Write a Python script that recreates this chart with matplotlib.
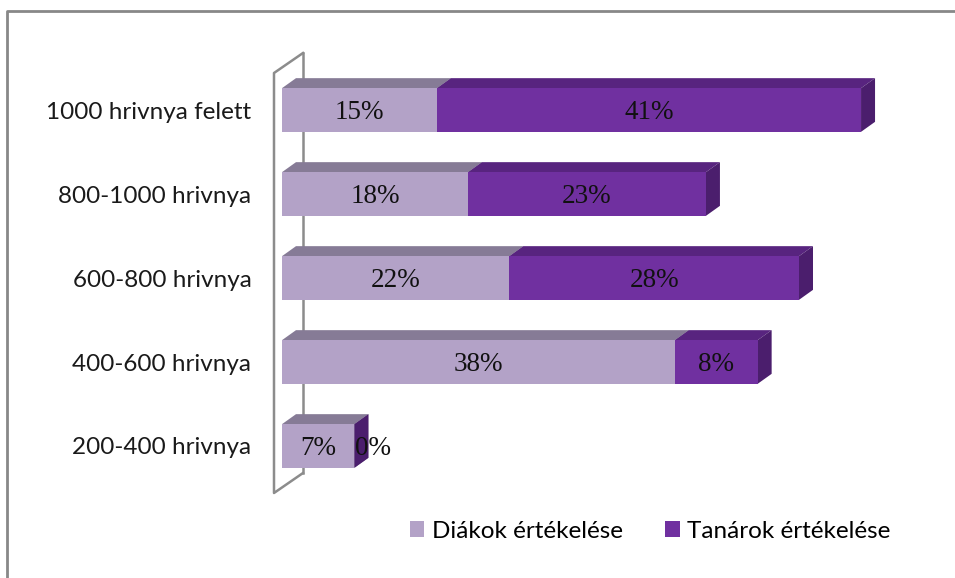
import matplotlib.pyplot as plt
from matplotlib.patches import Polygon, Patch
from matplotlib.lines import Line2D

# --------- data --------- #
categories = ['200-400 hrivnya', '400-600 hrivnya', '600-800 hrivnya',
              '800-1000 hrivnya', '1000 hrivnya felett']
diakok = [7, 38, 22, 18, 15]
tanarok = [0, 8, 28, 23, 41]
series_names = ['Diákok értékelése', 'Tanárok értékelése']

# colours: front, top, side
light = ('#B3A2C7', '#867B96', '#7E6F92')
dark = ('#7030A0', '#58247F', '#4B1E6D')

W, H = 955, 578
fig = plt.figure(figsize=(W / 100, H / 100), dpi=100)

# axes mapped so 1% = 10.34 px, x=0 at px 282, category i at px 446-84*i
x0_px, ppx = 282, 10.34
xmax = 60
ylo, yhi = -0.7, 4.7
ax = fig.add_axes([x0_px / W, (H - (446 + 84 * -ylo)) / H,
                   ppx * xmax / W, 84 * (yhi - ylo) / H])
ax.set_xlim(0, xmax)
ax.set_ylim(ylo, yhi)
for s in ax.spines.values():
    s.set_visible(False)
ax.set_xticks([])
ax.set_yticks(range(len(categories)))
ax.set_yticklabels(categories, fontsize=17.5, family='Lato', color='#1a1a1a')
ax.tick_params(axis='y', length=0, pad=22)

dx, dy = 14 / ppx, 10 / 84
bh = 0.52

# back wall outline
wall = '#8c8c8c'
xl, xb = -8 / ppx, 21 / ppx
yt, yb = (446 - 73) / 84, (446 - 493) / 84
ax.add_line(Line2D([xb, xb], [yb + 20 / 84, yt + 20 / 84], color=wall, lw=1.8,
                   clip_on=False, zorder=1))
ax.add_line(Line2D([xb, xl, xl, xb], [yt + 20 / 84, yt, yb, yb + 20 / 84],
                   color=wall, lw=1.8, clip_on=False, zorder=1))


def box(x, y, w, cols, z):
    f, t, sd = cols
    lo, hi = y - bh / 2, y + bh / 2
    ax.add_patch(Polygon([(x, hi), (x + w, hi), (x + w + dx, hi + dy), (x + dx, hi + dy)],
                         closed=True, fc=t, ec='none', zorder=z, clip_on=False))
    ax.add_patch(Polygon([(x + w, lo), (x + w + dx, lo + dy), (x + w + dx, hi + dy), (x + w, hi)],
                         closed=True, fc=sd, ec='none', zorder=z, clip_on=False))
    ax.add_patch(Polygon([(x, lo), (x + w, lo), (x + w, hi), (x, hi)],
                         closed=True, fc=f, ec='none', zorder=z + 0.5, clip_on=False))


for i in range(len(categories)):
    box(0, i, diakok[i], light, 2)
    box(diakok[i], i, tanarok[i], dark, 3)
    ax.text(diakok[i] / 2, i - 0.03, f'{diakok[i]}%', ha='center', va='center',
            family='Liberation Serif', fontsize=19.5, color='#111111', zorder=5)
    if tanarok[i] == 0:
        ax.text(diakok[i] + 0.05, i - 0.03, f'{tanarok[i]}%', ha='left', va='center',
                family='Liberation Serif', fontsize=19.5, color='#111111', zorder=5)
    else:
        ax.text(diakok[i] + tanarok[i] / 2, i - 0.03, f'{tanarok[i]}%', ha='center',
                va='center', family='Liberation Serif', fontsize=19.5, color='#111111', zorder=5)

# legend
handles = [Patch(fc=light[0], ec='none'), Patch(fc=dark[0], ec='none')]
fig.legend(handles, series_names, loc='center left', bbox_to_anchor=(388 / W, 1 - 531 / H),
           ncol=2, frameon=False, handlelength=0.6, handleheight=0.6, handletextpad=0.3,
           columnspacing=1.75, prop={'family': 'Lato', 'size': 17.5})

# chart border (top and left)
fig.add_artist(Line2D([7 / W, 7 / W, 1], [0, 1 - 11 / H, 1 - 11 / H],
                      transform=fig.transFigure, color='#888888', lw=2))

fig.savefig('out.png', dpi=100)
